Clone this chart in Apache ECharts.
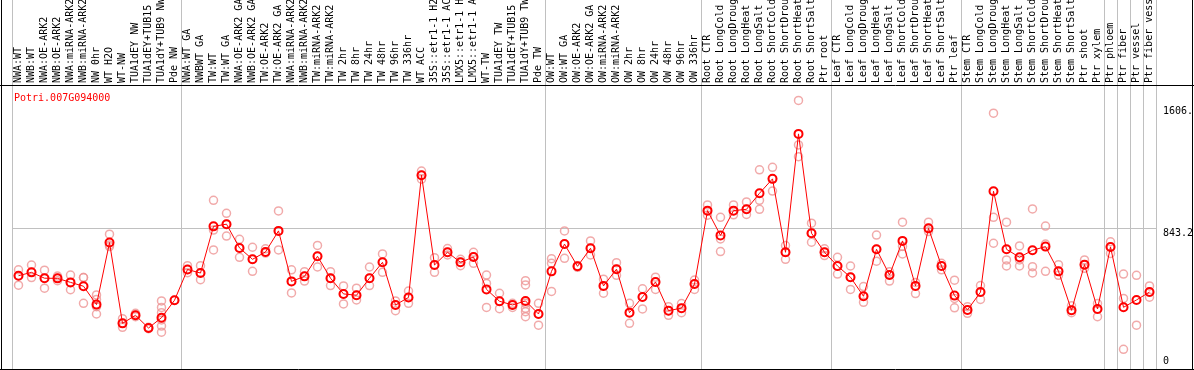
<!DOCTYPE html>
<html>
<head>
<meta charset="utf-8">
<script src="https://cdn.jsdelivr.net/npm/echarts@6/dist/echarts.min.js"></script>
<style>
  html, body { margin: 0; padding: 0; background: #fff; }
  #chart { width: 1194px; height: 370px; }
</style>
</head>
<body>
<div id="chart"></div>
<script>
const geneId = 'Potri.007G094000';

const categories = [
  'NWA:WT', 'NWB:WT', 'NWA:OE-ARK2', 'NWB:OE-ARK2', 'NWA:miRNA-ARK2', 'NWB:miRNA-ARK2',
  'NW 0hr', 'WT H2O', 'WT-NW', 'TUA1dEY NW', 'TUA1dEY+TUB15 NW', 'TUA1dY+TUB9 NW', 'Pde NW',
  'NWA:WT GA', 'NWBWT GA', 'TW:WT', 'TW:WT GA', 'NWA:OE-ARK2 GA', 'NWB:OE-ARK2 GA',
  'TW:OE-ARK2', 'TW:OE-ARK2 GA', 'NWA:miRNA-ARK2', 'NWB:miRNA-ARK2', 'TW:miRNA-ARK2',
  'TW:miRNA-ARK2', 'TW 2hr', 'TW 8hr', 'TW 24hr', 'TW 48hr', 'TW 96hr', 'TW 336hr',
  'WT ACC', '35S::etr1-1 H2O', '35S::etr1-1 ACC', 'LMX5::etr1-1 H2O', 'LMX5::etr1-1 ACC',
  'WT-TW', 'TUA1dEY TW', 'TUA1dEY+TUB15 TW', 'TUA1dY+TUB9 TW', 'Pde TW',
  'OW:WT', 'OW:WT GA', 'OW:OE-ARK2', 'OW:OE-ARK2 GA', 'OW:miRNA-ARK2', 'OW:miRNA-ARK2',
  'OW 2hr', 'OW 8hr', 'OW 24hr', 'OW 48hr', 'OW 96hr', 'OW 336hr',
  'Root CTR', 'Root LongCold', 'Root LongDrought', 'Root LongHeat', 'Root LongSalt',
  'Root ShortCold', 'Root ShortDrought', 'Root ShortHeat', 'Root ShortSalt', 'Ptr root',
  'Leaf CTR', 'Leaf LongCold', 'Leaf LongDrought', 'Leaf LongHeat', 'Leaf LongSalt',
  'Leaf ShortCold', 'Leaf ShortDrought', 'Leaf ShortHeat', 'Leaf ShortSalt', 'Ptr leaf',
  'Stem CTR', 'Stem LongCold', 'Stem LongDrought', 'Stem LongHeat', 'Stem LongSalt',
  'Stem ShortCold', 'Stem ShortDrought', 'Stem ShortHeat', 'Stem ShortSalt', 'Ptr shoot',
  'Ptr xylem', 'Ptr phloem', 'Ptr fiber', 'Ptr vessel', 'Ptr fiber vessel'
];

const means = [
  558, 578, 543, 542, 518, 495, 385, 756, 273, 321, 245, 307, 411,
  595, 574, 853, 866, 724, 656, 700, 826, 524, 554, 674, 543, 449, 441, 543, 638, 383, 428,
  1159, 622, 698, 638, 670, 476, 405, 383, 407, 329,
  584, 747, 614, 722, 497, 597, 337, 431, 520, 349, 364, 508,
  947, 799, 947, 955, 1051, 1137, 698, 1406, 812, 698,
  616, 549, 435, 716, 562, 766, 497, 841, 616, 439,
  353, 460, 1063, 716, 668, 710, 732, 584, 351, 624,
  359, 730, 369, 413, 460
];

const reps = [
  [593, 558, 501], [622, 578, 547], [591, 543, 483], [556, 542, 528], [562, 518, 474],
  [547, 547, 393], [443, 416, 373, 329], [806, 732, 742], [301, 273, 249], [333, 321, 313],
  [249, 245, 241], [407, 368, 337, 293, 257, 220], [411],
  [618, 576, 595], [618, 534, 574], [1009, 831, 712], [931, 795, 866], [776, 668, 724],
  [728, 584, 656], [719, 693, 700], [945, 712, 826], [593, 455, 524], [582, 526, 554],
  [739, 610, 674], [582, 499, 543], [497, 389, 449], [483, 413, 441], [610, 499, 543],
  [688, 578, 638], [407, 349, 383], [466, 393, 428],
  [1184, 1135, 1159], [666, 578, 622], [720, 682, 698], [656, 618, 638], [698, 632, 670],
  [562, 512, 368], [453, 361, 405], [393, 383, 368], [528, 503, 393, 363, 343, 313],
  [393, 329, 262],
  [660, 632, 464], [826, 662, 747], [618, 608, 614], [766, 682, 722], [537, 453, 497],
  [636, 560, 597], [393, 273, 337], [480, 359, 431], [549, 476, 520], [373, 321, 349],
  [391, 337, 364], [532, 476, 508],
  [981, 920, 947], [907, 778, 702], [981, 922, 947], [999, 924, 955], [1191, 1009, 955],
  [1206, 1064, 1137], [738, 656, 698], [1606, 1340, 1270], [872, 758, 812], [719, 678, 698],
  [668, 568, 616], [616, 476, 549], [493, 399, 435], [801, 645, 716], [582, 526, 562],
  [878, 688, 733], [518, 451, 497], [878, 822, 841], [632, 593, 616], [531, 422, 366],
  [373, 333, 353], [499, 416, 460], [1530, 907, 752], [878, 652, 616], [736, 652, 616],
  [957, 612, 574], [855, 747, 584], [624, 560, 584], [378, 337, 351], [652, 602, 624],
  [391, 313, 359], [761, 691, 730], [568, 422, 118], [560, 262], [497, 429, 460]
];

// first category of each sample group (a separator is drawn before it)
const groupStarts = [0, 13, 41, 53, 63, 73, 84, 85, 86, 87];

const yMax = 1686.4;
const yStep = 843.2;
const yLabels = [843.2, 1606.1];

const font = 'DejaVu Sans Mono';

const repPoints = [];
reps.forEach((list, i) => {
  list.forEach(v => repPoints.push([i, v]));
});

const chart = echarts.init(document.getElementById('chart'), null, { renderer: 'canvas' });

chart.setOption({
  animation: false,
  title: {
    text: geneId,
    left: 9,
    top: 88,
    textStyle: { color: '#ff0000', fontSize: 10, fontWeight: 'normal', fontFamily: font }
  },
  grid: [
    { left: 12, right: 38, top: 87, bottom: 1, outerBoundsMode: 'none' },
    { left: 12, right: 38, top: 0, bottom: 1, outerBoundsMode: 'none' }
  ],
  xAxis: [
    {
      type: 'category',
      gridIndex: 0,
      position: 'top',
      data: categories,
      axisLine: { show: false },
      axisTick: { show: false },
      splitLine: { show: false },
      axisLabel: {
        interval: 0,
        rotate: 90,
        margin: 4,
        color: '#000',
        fontSize: 10,
        fontFamily: font
      }
    },
    {
      type: 'category',
      gridIndex: 1,
      data: categories,
      axisLine: { show: false },
      axisTick: { show: false },
      axisLabel: { show: false },
      splitLine: {
        show: true,
        interval: (idx) => groupStarts.indexOf(idx) >= 0,
        lineStyle: { color: '#c0c0c0', width: 1 }
      }
    }
  ],
  yAxis: [
    {
      type: 'value',
      gridIndex: 0,
      position: 'right',
      min: 0,
      max: yMax,
      interval: yStep,
      axisLine: { show: false },
      axisTick: { show: false },
      splitLine: {
        show: true,
        showMinLine: false,
        showMaxLine: false,
        lineStyle: { color: '#c0c0c0', width: 1 }
      },
      axisLabel: {
        customValues: yLabels,
        margin: 7,
        color: '#000',
        fontSize: 10,
        fontFamily: font,
        verticalAlign: 'top',
        formatter: (v) => {
          const s = String(v).slice(0, 5);
          return v > 1000 ? '{t|' + s + '}' : s;
        },
        rich: { t: { padding: [6, 0, 0, 0], fontSize: 10, fontFamily: font, color: '#000' } }
      }
    },
    {
      type: 'value',
      gridIndex: 0,
      position: 'right',
      min: 0,
      max: yMax,
      axisLine: { show: false },
      axisTick: { show: false },
      splitLine: { show: false },
      axisLabel: {
        customValues: [0],
        margin: 7,
        color: '#000',
        fontSize: 10,
        fontFamily: font,
        verticalAlign: 'bottom',
        padding: [0, 0, 3, 0]
      }
    },
    { type: 'value', gridIndex: 1, min: 0, max: 1, show: false }
  ],
  graphic: [
    { type: 'line', shape: { x1: 0, y1: 85.5, x2: 1194, y2: 85.5 }, style: { stroke: '#000', lineWidth: 1 }, z: 10 },
    { type: 'line', shape: { x1: 0, y1: 369.5, x2: 1194, y2: 369.5 }, style: { stroke: '#000', lineWidth: 1 }, z: 10 },
    { type: 'line', shape: { x1: 1.5, y1: 0, x2: 1.5, y2: 370 }, style: { stroke: '#000', lineWidth: 1 }, z: 10 },
    { type: 'line', shape: { x1: 1192.5, y1: 0, x2: 1192.5, y2: 370 }, style: { stroke: '#000', lineWidth: 1 }, z: 10 }
  ],
  series: [
    {
      type: 'scatter',
      xAxisIndex: 0,
      yAxisIndex: 0,
      data: repPoints,
      symbol: 'circle',
      symbolSize: 8,
      itemStyle: { color: 'rgba(255,255,255,0)', borderColor: '#ee9595', borderWidth: 1.5 },
      z: 2
    },
    {
      type: 'line',
      xAxisIndex: 0,
      yAxisIndex: 0,
      data: means,
      showAllSymbol: true,
      symbol: 'circle',
      symbolSize: 8,
      lineStyle: { color: '#ff0000', width: 1 },
      itemStyle: { color: 'rgba(255,255,255,0)', borderColor: '#ff0000', borderWidth: 2 },
      z: 3
    }
  ]
});
</script>
</body>
</html>
